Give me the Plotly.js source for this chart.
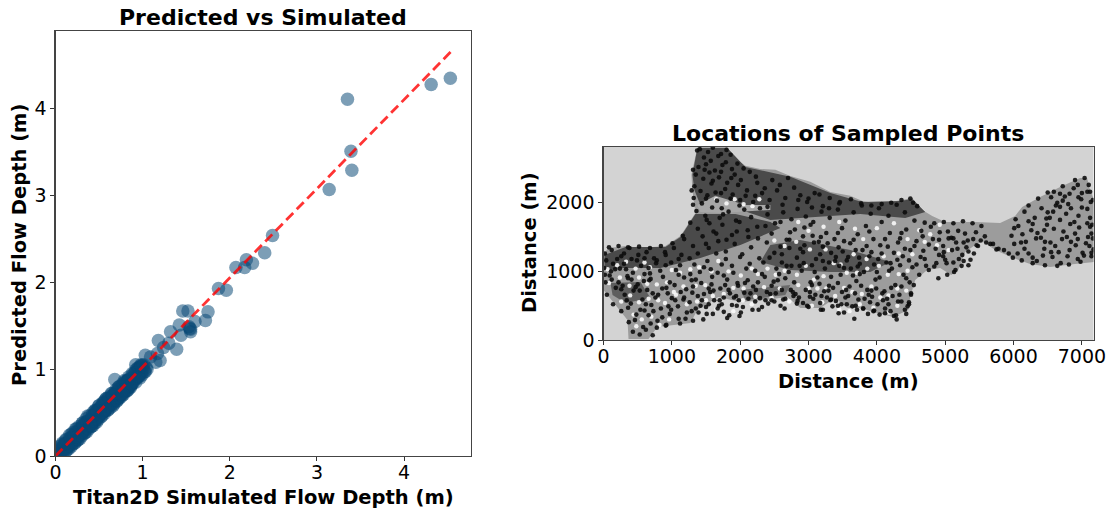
<!DOCTYPE html>
<html><head><meta charset="utf-8">
<script src="https://cdn.plot.ly/plotly-3.0.1.min.js"></script>
<style>html,body{margin:0;padding:0;background:#fff}#c{width:1119px;height:508px}</style></head>
<body><div id="c"></div>
<script>
// Left panel: simulated vs predicted flow depth (m). Sparse points are read from the picture;
// points in the dense band below 1 m cannot be told apart and are by-eye estimates of the band.
const simDepth = [4.53,4.31,3.35,3.39,3.40,3.14,2.49,2.40,2.26,2.19,2.17,2.07,1.96,1.87,1.75,1.72,1.52,1.46,1.60,1.42,1.54,1.55,1.53,1.55,1.32,1.44,1.18,1.39,1.30,1.03,1.24,1.17,1.20,1.09,1.15,0.92,1.01,0.68,
 1.00,0.98,0.96,0.95,0.93,0.97,1.02,1.05,0.94,0.90,0.88,0.85,0.82,0.86,0.80,0.78,0.76,0.74,0.79,0.72,0.70,0.73,0.68,0.66,0.64,0.69,0.62,0.60,0.58,0.63,0.56,0.54,0.52,0.57,0.50,0.48,0.46,0.53,0.44,0.42,0.47,0.40,0.38,0.43,0.36,0.34,0.39,0.32,0.30,0.35,0.28,0.26,0.31,0.24,0.22,0.27,0.20,0.18,0.23,0.16,0.14,0.19,0.12,0.10,0.15,0.08,0.06,0.11,0.04,0.05,0.09,0.02,0.13,0.17,0.21,0.25,0.29,0.33,0.37,0.41,0.45,0.49,0.55,0.59,0.61,0.65,0.67,0.71,0.75,0.77,0.81,0.83,0.87,0.91,0.55,0.47,0.40,0.33,0.24,0.15,0.62,0.52,0.36,0.44,0.28,0.19,0.11,0.72,0.84,
 0.50,0.45,0.58,0.37,0.31,0.24,0.18,0.12,0.64,0.70,0.53,0.43,0.36,0.28,0.22,0.15,0.60,0.76,0.82,0.56,0.66,0.47,0.41,0.33,0.25,0.19,0.13,0.07,0.03,0.72,0.92,0.98,0.88,0.79,
 0.05,0.08,0.12,0.16,0.20,0.23,0.27,0.31,0.35,0.39,0.43,0.46,0.50,0.54,0.58,0.61,0.65,0.69,0.73,0.77,0.80,0.84,0.88,0.94,0.12,0.18,0.22,0.26,0.30,0.34,0.38,0.41,0.45,0.49,0.52,0.56,0.60,0.63,0.67,0.71,0.74,0.78,0.83,0.86,0.92,0.97,0.99,1.03,0.10,0.17,0.25,0.32,0.40,0.48,0.57,0.66,0.75,0.85,0.95,0.30,0.42,0.54,0.69,
 0.74,0.78,0.81,0.85,0.89,0.93,0.96,0.99,1.01,0.77,0.83,0.87,0.91,0.95,0.98,1.04];
const predDepth = [4.35,4.28,4.11,3.51,3.29,3.07,2.54,2.34,2.22,2.26,2.17,2.17,1.91,1.93,1.66,1.56,1.67,1.67,1.55,1.51,1.47,1.43,1.49,1.46,1.43,1.39,1.33,1.23,1.30,1.16,1.25,1.18,1.10,1.14,1.08,1.05,1.02,0.88,
 1.04,1.03,1.00,1.01,0.97,0.94,0.97,1.00,0.92,0.86,0.90,0.84,0.86,0.80,0.78,0.76,0.80,0.74,0.74,0.70,0.74,0.68,0.64,0.70,0.66,0.66,0.60,0.66,0.56,0.60,0.60,0.50,0.56,0.52,0.46,0.50,0.44,0.50,0.46,0.38,0.42,0.42,0.34,0.40,0.38,0.30,0.36,0.34,0.26,0.32,0.30,0.24,0.28,0.26,0.18,0.24,0.22,0.14,0.20,0.18,0.12,0.16,0.14,0.06,0.12,0.10,0.04,0.08,0.06,0.02,0.07,0.03,0.10,0.18,0.25,0.22,0.31,0.30,0.40,0.38,0.49,0.45,0.51,0.62,0.58,0.60,0.71,0.67,0.72,0.80,0.75,0.87,0.83,0.88,0.61,0.52,0.37,0.37,0.28,0.11,0.58,0.57,0.40,0.40,0.32,0.22,0.14,0.66,0.79,
 0.58,0.52,0.66,0.46,0.38,0.31,0.25,0.18,0.72,0.63,0.46,0.35,0.28,0.20,0.15,0.08,0.53,0.69,0.75,0.63,0.58,0.39,0.34,0.26,0.18,0.13,0.07,0.13,0.08,0.79,0.99,1.05,0.83,0.87,
 0.11,0.15,0.19,0.24,0.27,0.31,0.34,0.38,0.43,0.46,0.50,0.53,0.58,0.61,0.66,0.68,0.72,0.76,0.80,0.83,0.86,0.91,0.95,1.01,0.06,0.11,0.15,0.19,0.23,0.27,0.31,0.34,0.38,0.42,0.45,0.49,0.53,0.56,0.60,0.64,0.67,0.71,0.76,0.79,0.85,0.90,0.93,0.97,0.14,0.21,0.22,0.36,0.36,0.52,0.53,0.70,0.71,0.89,0.91,0.26,0.46,0.50,0.73,
 0.80,0.76,0.85,0.81,0.94,0.90,1.02,0.96,1.05,0.72,0.87,0.83,0.96,0.92,1.04,1.02];
const lineX = [0,4.54];
const lineY = [0,4.66];

// Right panel: footprint, shading approximated by eye (metres)
const footX = [0,73,322,541,906,1126,1345,1301,1287,1330,1374,1813,1900,2076,2295,2515,2734,3026,3319,3611,3787,4050,4342,4518,4664,4810,5000,5439,5804,6023,6126,6389,6681,6974,7076,7120,7178,7178,6900,6535,6243,5994,5731,5541,5439,5292,5249,5190,5088,4927,4737,4561,4488,4459,4240,3947,3757,3567,3392,3173,2880,2690,2368,2003,1681,1374,1272,789,658,366,351,0];
const footY = [1254,1341,1370,1341,1370,1516,1852,2187,2406,2624,2810,2810,2668,2537,2493,2479,2391,2304,2158,2100,2027,1983,2041,2070,1895,1808,1720,1720,1706,1808,1939,2085,2231,2362,2362,2187,2041,1137,1108,1064,1108,1196,1312,1443,1385,1283,1166,1020,948,1050,1020,875,627,437,335,408,467,467,612,467,467,627,583,554,627,437,248,190,15,15,292,729];
const darkTopX = [1374,1813,2076,2734,3319,3787,4342,4518,4708,4415,3757,2880,2442,1930,1418,1330,1301];
const darkTopY = [2799,2799,2522,2377,2143,2012,2027,2056,1866,1779,1837,1779,1750,1925,1968,2187,2406];
const darkLeftX = [15,322,906,1126,1345,1930,2442,2588,2003,1418,833,249,15];
const darkLeftY = [1239,1356,1356,1502,1837,1837,1720,1633,1385,1196,1050,1050,1020];
const darkMidX = [2442,2880,3611,4196,3904,3319,2734,2295];
const darkMidY = [1385,1458,1312,1137,991,991,1021,1137];
const darkBlobX = [102,541,687,322,132];
const darkBlobY = [831,846,612,539,656];
const darkLowX = [2003,2734,2661,2076];
const darkLowY = [729,802,656,583];
const streakX = [1374,1637,2076,2442,2442,1711,1418];
const streakY = [1968,2100,1968,1968,1895,1852,1866];

// Sampled points, pairs of (x, y) in tens of metres. Too many overlap to read singly: placed by eye.
const samplePairs = [
 141,278,153,274,160,280,172,271,180,277,147,266,157,261,168,268,179,259,186,270,139,252,150,256,163,247,174,255,188,249,196,257,205,250,
 135,241,146,235,155,244,169,237,181,229,192,241,201,233,214,245,223,238,133,224,142,217,158,228,164,215,178,220,189,212,197,226,210,218,225,229,236,221,247,233,258,226,270,236,
 132,207,144,199,152,211,166,203,173,192,186,206,199,196,208,210,219,201,232,214,243,204,254,218,266,207,279,222,288,211,298,201,309,214,321,195,
 136,188,149,181,159,193,170,178,183,187,194,174,206,190,216,179,229,192,240,183,251,170,263,186,275,176,284,191,296,180,307,172,319,187,331,178,343,190,354,174,366,186,378,196,391,184,403,192,417,181,429,197,441,186,453,200,
 127,171,138,162,151,175,161,158,174,168,188,153,199,172,211,160,226,148,237,166,246,155,259,172,268,146,280,161,292,151,303,168,315,143,326,156,338,147,349,163,361,141,372,154,384,166,395,147,407,172,419,156,431,142,443,161,455,174,467,151,479,165,491,146,504,158,516,142,529,155,541,147,553,166,
 118,147,131,137,145,151,154,134,168,144,179,129,192,140,203,125,216,135,228,119,239,142,250,127,261,113,272,134,283,120,294,138,305,109,317,125,328,141,339,115,350,129,362,104,374,120,385,137,396,110,407,126,418,101,430,117,441,133,452,106,464,121,476,139,487,112,498,128,509,149,520,118,531,135,542,126,
 12,131,26,122,38,134,49,116,63,128,77,112,91,124,103,134,112,109,126,119,141,99,152,115,165,126,176,94,188,108,200,121,211,87,222,101,234,113,246,79,257,96,268,108,279,84,290,101,302,70,313,91,324,104,336,76,347,95,358,64,370,86,381,99,392,72,404,91,415,60,427,80,439,95,450,68,
 4,116,17,103,30,111,43,98,55,108,69,89,83,101,97,84,110,95,121,74,135,88,147,67,158,81,170,58,183,73,195,50,206,69,218,44,229,61,241,53,252,68,263,59,274,73,286,62,298,50,310,66,321,44,332,58,344,39,356,52,367,31,380,46,393,63,404,37,417,52,429,30,441,44,
 9,94,22,84,36,90,47,77,59,86,72,68,86,75,100,61,113,70,126,55,138,64,150,48,162,58,176,41,188,51,199,35,
 18,76,31,66,44,72,57,59,70,51,84,46,97,38,109,49,120,31,40,53,54,44,66,36,79,28,91,21,46,29,58,19,69,24,43,12,53,8,62,15,
 24,104,35,93,68,97,91,109,127,96,143,83,157,103,171,75,181,88,194,64,207,83,223,73,237,58,249,85,261,73,283,53,296,73,316,82,329,72,343,83,355,73,368,68,377,79,390,55,399,75,411,71,423,64,436,78,447,55,
 462,95,476,102,490,90,502,112,513,99,524,108,470,118,484,107,497,122,510,131,525,124,537,117,548,137,
 597,152,607,166,618,143,626,160,640,149,649,168,661,137,673,158,684,143,696,164,709,150,717,132,
 586,131,599,120,611,142,622,126,634,115,645,133,657,121,669,112,682,131,694,118,706,141,714,122,
 603,176,616,187,628,169,641,192,653,178,664,200,677,184,689,172,700,193,712,178,
 636,206,650,215,662,196,675,209,688,221,699,205,710,226,704,236,690,233,672,224,
 560,142,575,132,546,138,534,129,527,115,515,102,503,95,
 2,126,8,135,22,137,36,135,52,136,68,134,84,137,101,141,116,152,131,197,129,218,131,248,137,276,
 300,206,316,212,331,207,346,201,362,205,377,199,392,196,407,198,421,200,436,204,449,206,459,195,
 470,171,484,170,498,172,512,170,526,173,540,170,
 712,216,716,204,715,168,716,148,714,127,698,114,681,110,664,108,646,109,628,112,612,116,
 578,133,566,140,552,145,
 454,80,450,66,447,52,443,38,428,36,412,39,396,43,380,46,364,49,348,52,333,59,317,54,300,48,284,57,266,60,246,58,222,56,198,58,176,62,154,52,139,40,131,28,112,24,92,22,78,18,72,7,
 5,66,14,52,26,42,37,26,
 14,111,41,118,66,105,78,116,106,102,118,91,133,110,159,92,173,110,190,98,214,111,236,92,253,104,266,90,287,108,309,99,333,92,352,105,375,96,398,88,422,104,443,90,
 28,79,50,81,64,73,92,76,105,58,131,78,144,58,161,72,185,68,197,79,212,60,226,84,244,67,259,50,281,67,305,80,319,64,340,57,360,78,373,59,386,73,409,58,433,66,445,49,
 34,58,62,52,76,62,95,49,117,59,129,42,151,38,167,46,181,32,204,48,232,48,
 302,63,323,71,335,49,352,40,371,44,387,38,401,52,412,46,425,35,436,56,
 261,125,275,108,292,128,311,118,333,127,356,116,379,131,402,118,425,127,447,116,468,130,491,124,512,113,
 273,157,294,164,318,150,343,156,366,146,389,158,412,147,436,156,458,144,
 633,148,655,128,678,150,701,127,622,173,645,160,668,175,690,155,712,165,
 1,105,2,95,3,84,11,100,
 650,186,668,194,695,181,655,208,680,198,700,214,
 // further dark specks in the speckled zones
 20,118,33,103,51,124,60,96,74,119,87,92,99,113,114,124,129,87,147,106,154,75,167,98,179,118,196,83,209,104,219,78,232,96,243,120,255,87,271,99,277,70,293,112,303,84,321,115,327,62,345,108,349,70,365,94,375,111,388,66,400,99,414,113,421,76,434,109,448,84,458,110,
 12,88,26,74,41,88,53,72,67,87,80,66,94,68,104,80,118,62,130,69,142,50,156,70,169,50,178,80,191,62,201,40,215,68,227,44,239,70,250,56,265,46,278,64,292,54,307,60,318,44,330,79,343,50,354,62,369,50,382,60,395,42,408,68,420,42,431,56,
 36,47,48,37,60,43,73,42,86,33,99,44,110,31,122,40,135,46,146,30,160,38,173,52,184,36,
 308,142,330,113,344,135,358,121,372,107,389,122,405,138,420,112,438,122,455,137,472,108,486,133,500,117,518,133,534,109,
 259,136,272,146,288,133,306,152,321,136,340,121,352,144,369,131,392,128,416,136,434,148,449,131,465,159,482,147,497,137,512,148,527,142,
 601,140,616,133,628,120,643,123,654,142,666,128,679,122,691,138,703,123,711,137,593,126,606,126,
 601,163,613,154,635,156,646,143,659,162,671,147,683,169,694,147,708,170,714,155,
 622,196,631,178,648,177,658,187,672,203,684,192,695,208,708,191,713,201,
 659,216,668,213,682,213,694,226,708,216,
 492,157,505,148,519,159,533,145,545,157,558,151,570,140,
 // speckle in the upper dark zones
 148,248,172,245,160,232,187,236,150,206,172,214,200,204,222,210,240,194,262,197,285,204,305,193,330,192,345,199,
 90,128,60,119,30,126,110,118,138,126,150,140,165,155,180,146,195,158,212,150,225,165,155,170,175,183
];
// Pale gaps between the dots in the lighter zones, placed by eye
const gapPairs = [
 6,103,20,109,33,114,47,104,60,113,68,106,100,102,112,98,127,103,140,106,158,100,168,115,183,100,201,94,217,104,226,96,240,104,252,95,265,101,283,95,296,108,308,88,322,93,337,112,356,98,371,98,386,104,403,108,416,95,432,96,445,101,
 8,83,24,91,38,79,52,91,64,82,78,81,93,84,103,70,117,78,135,79,149,80,160,64,176,67,190,76,205,75,222,63,235,77,246,62,258,75,272,56,285,80,300,75,313,75,326,75,339,64,352,76,364,70,378,67,392,78,405,62,417,65,430,75,443,72,
 26,56,39,65,52,55,66,60,80,58,90,54,106,66,122,52,137,56,150,58,165,45,190,42,204,58,217,52,
 44,37,56,30,70,34,82,22,96,30,48,20,
 305,50,320,55,345,44,360,42,375,52,395,47,418,40,430,50,
 250,145,265,137,282,143,302,132,325,132,347,110,366,125,385,118,410,122,432,126,452,125,470,143,488,138,505,131,
 285,172,300,159,322,165,345,172,368,162,380,147,400,163,425,170,445,147,462,160,478,154,492,168,
 165,205,180,199,192,205,205,198,218,195,228,205
];
const xsOf = arr => arr.filter((_, i) => i % 2 === 0).map(v => v * 10);
const ysOf = arr => arr.filter((_, i) => i % 2 === 1).map(v => v * 10);

function region(x, y, color) {
  return {x: x, y: y, xaxis: 'x2', yaxis: 'y2', type: 'scatter', mode: 'lines', fill: 'toself',
    fillcolor: color, line: {width: 0, color: color}, hoverinfo: 'skip', showlegend: false};
}
const traces = [
  {x: simDepth, y: predDepth, type: 'scatter', mode: 'markers', showlegend: false,
   marker: {size: 13.5, color: 'rgba(8,72,118,0.53)', line: {width: 0}}},
  {x: lineX, y: lineY, type: 'scatter', mode: 'lines', showlegend: false,
   line: {color: 'rgba(255,0,0,0.8)', width: 2.8, dash: '10px,5px'}},
  region(footX, footY, '#9c9c9c'),
  region(darkTopX, darkTopY, '#4a4a4a'),
  region(streakX, streakY, '#a8a8a8'),
  region(darkLeftX, darkLeftY, '#4a4a4a'),
  region(darkMidX, darkMidY, '#555555'),
  region(darkBlobX, darkBlobY, '#5e5e5e'),
  region(darkLowX, darkLowY, '#6a6a6a'),
  {x: xsOf(gapPairs), y: ysOf(gapPairs), xaxis: 'x2', yaxis: 'y2', type: 'scatter', mode: 'markers', showlegend: false,
   marker: {size: 4.4, color: 'rgba(250,250,250,0.9)', line: {width: 0}}},
  {x: xsOf(samplePairs), y: ysOf(samplePairs), xaxis: 'x2', yaxis: 'y2', type: 'scatter', mode: 'markers', showlegend: false,
   marker: {size: 4.6, color: 'rgba(10,10,10,0.88)', line: {width: 0}}}
];
const W = 1119, H = 508;
const tick = {family: 'DejaVu Sans', size: 19, color: '#000'};
function axis(extra) {
  return Object.assign({showgrid: false, zeroline: false, showline: true, mirror: true, linecolor: '#444', linewidth: 1.2,
    ticks: 'outside', ticklen: 4, tickwidth: 1, tickcolor: '#333', tickfont: tick, automargin: false}, extra);
}
function label(text, px, py, size, angle) {
  return {text: '<b>' + text + '</b>', xref: 'paper', yref: 'paper', x: px / W, y: 1 - py / H, showarrow: false,
    xanchor: 'center', yanchor: 'middle', textangle: angle || 0, font: {family: 'DejaVu Sans', size: size, color: '#000'}};
}
const layout = {
  width: W, height: H, margin: {l: 0, r: 0, t: 0, b: 0}, paper_bgcolor: '#fff', plot_bgcolor: '#fff', showlegend: false,
  xaxis: axis({domain: [55.5/W, 471/W], range: [0, 4.767], tickvals: [0,1,2,3,4], anchor: 'y', ticklabelstandoff: -5}),
  yaxis: axis({domain: [1-456/H, 1-31/H], range: [0, 4.895], tickvals: [0,1,2,3,4], anchor: 'x'}),
  xaxis2: axis({domain: [603.5/W, 1093.5/W], range: [0, 7170], tickvals: [0,1000,2000,3000,4000,5000,6000,7000], anchor: 'y2', ticklabelstandoff: -5}),
  yaxis2: axis({domain: [1-340/H, 1-147/H], range: [0, 2812], tickvals: [0,1000,2000], anchor: 'x2'}),
  shapes: [{type: 'rect', xref: 'x2 domain', yref: 'y2 domain', x0: 0, x1: 1, y0: 0, y1: 1, fillcolor: '#d3d3d3', line: {width: 0}, layer: 'below'}],
  annotations: [
    label('Predicted vs Simulated', 263, 17, 22),
    label('Locations of Sampled Points', 848, 133, 22),
    label('Titan2D Simulated Flow Depth (m)', 263, 497, 19.5),
    label('Predicted Flow Depth (m)', 19, 245, 19.5, -90),
    label('Distance (m)', 848, 381, 19.5),
    label('Distance (m)', 529, 243, 19.5, -90)
  ]
};
Plotly.newPlot('c', traces, layout, {displayModeBar: false, staticPlot: true});
</script></body></html>
